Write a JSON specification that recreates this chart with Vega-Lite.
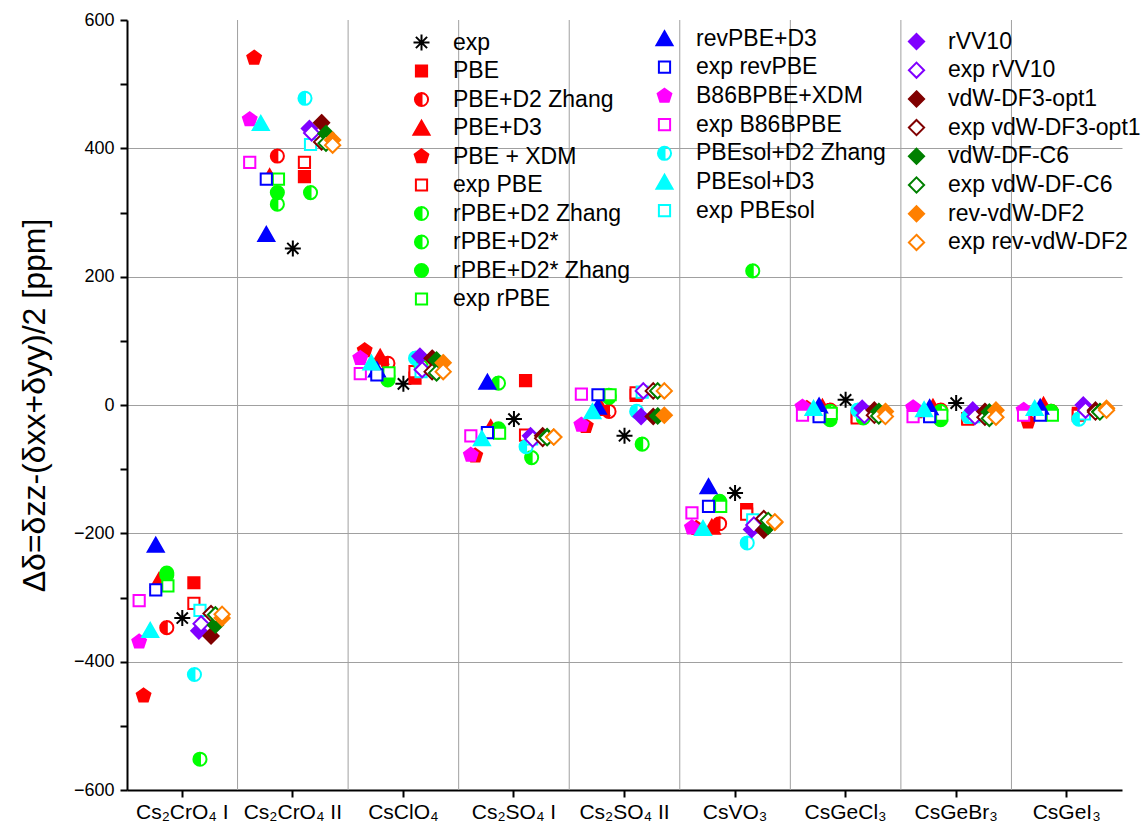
{
"$schema": "https://vega.github.io/schema/vega-lite/v6.json",
"width": 995, "height": 770,
"autosize": {"type": "none"},
"padding": {"left": 127, "top": 20, "right": 22, "bottom": 46},
"background": "white",
"config": {"view": {"stroke": null}, "font": "Liberation Sans"},
"datasets": {
"off": [
{"s":"exp","o":0},{"s":"PBE","o":0.105},{"s":"PBE+D2 Zhang","o":-0.14},{"s":"PBE+D3","o":-0.21},{"s":"PBE + XDM","o":-0.35},{"s":"exp PBE","o":0.105},{"s":"rPBE+D2 Zhang","o":-0.14},{"s":"rPBE+D2*","o":0.16},{"s":"rPBE+D2* Zhang","o":-0.14},{"s":"exp rPBE","o":-0.13},
{"s":"revPBE+D3","o":-0.24},{"s":"exp revPBE","o":-0.24},{"s":"B86BPBE+XDM","o":-0.39},{"s":"exp B86BPBE","o":-0.39},{"s":"PBEsol+D2 Zhang","o":0.11},{"s":"PBEsol+D3","o":-0.29},{"s":"exp PBEsol","o":0.16},
{"s":"rVV10","o":0.15},{"s":"exp rVV10","o":0.17},{"s":"vdW-DF3-opt1","o":0.26},{"s":"exp vdW-DF3-opt1","o":0.26},{"s":"vdW-DF-C6","o":0.30},{"s":"exp vdW-DF-C6","o":0.30},{"s":"rev-vdW-DF2","o":0.36},{"s":"exp rev-vdW-DF2","o":0.36}
],
"A": [
{"c":"Cs₂CrO₄ I","s":"exp","v":-332},{"c":"Cs₂CrO₄ II","s":"exp","v":244},{"c":"CsClO₄","s":"exp","v":33},{"c":"Cs₂SO₄ I","s":"exp","v":-22},{"c":"Cs₂SO₄ II","s":"exp","v":-48},{"c":"CsVO₃","s":"exp","v":-137},{"c":"CsGeCl₃","s":"exp","v":8},{"c":"CsGeBr₃","s":"exp","v":3},
{"c":"Cs₂CrO₄ I","s":"PBE","v":-277},{"c":"Cs₂CrO₄ II","s":"PBE","v":356},{"c":"CsClO₄","s":"PBE","v":42},{"c":"Cs₂SO₄ I","s":"PBE","v":38},{"c":"Cs₂SO₄ II","s":"PBE","v":15},{"c":"CsVO₃","s":"PBE","v":-163},{"c":"CsGeCl₃","s":"PBE","v":-18},{"c":"CsGeBr₃","s":"PBE","v":-21},{"c":"CsGeI₃","s":"PBE","v":-13},
{"c":"Cs₂CrO₄ I","s":"PBE+D2 Zhang","v":-347},{"c":"Cs₂CrO₄ II","s":"PBE+D2 Zhang","v":388},{"c":"CsClO₄","s":"PBE+D2 Zhang","v":65},{"c":"Cs₂SO₄ I","s":"PBE+D2 Zhang","v":-42},{"c":"Cs₂SO₄ II","s":"PBE+D2 Zhang","v":-10},{"c":"CsVO₃","s":"PBE+D2 Zhang","v":-185},{"c":"CsGeCl₃","s":"PBE+D2 Zhang","v":-8},{"c":"CsGeBr₃","s":"PBE+D2 Zhang","v":-8},{"c":"CsGeI₃","s":"PBE+D2 Zhang","v":-10},
{"c":"Cs₂CrO₄ I","s":"PBE+D3","v":-273},{"c":"Cs₂CrO₄ II","s":"PBE+D3","v":356},{"c":"CsClO₄","s":"PBE+D3","v":75},{"c":"Cs₂SO₄ I","s":"PBE+D3","v":-35},{"c":"Cs₂SO₄ II","s":"PBE+D3","v":-5},{"c":"CsVO₃","s":"PBE+D3","v":-190},{"c":"CsGeCl₃","s":"PBE+D3","v":-3},{"c":"CsGeBr₃","s":"PBE+D3","v":-3},{"c":"CsGeI₃","s":"PBE+D3","v":0},
{"c":"Cs₂CrO₄ I","s":"PBE + XDM","v":-453},{"c":"Cs₂CrO₄ II","s":"PBE + XDM","v":541},{"c":"CsClO₄","s":"PBE + XDM","v":85},{"c":"Cs₂SO₄ I","s":"PBE + XDM","v":-79},{"c":"Cs₂SO₄ II","s":"PBE + XDM","v":-33},{"c":"CsVO₃","s":"PBE + XDM","v":-192},{"c":"CsGeCl₃","s":"PBE + XDM","v":-5},{"c":"CsGeBr₃","s":"PBE + XDM","v":-10},{"c":"CsGeI₃","s":"PBE + XDM","v":-26},
{"c":"Cs₂CrO₄ I","s":"exp PBE","v":-309},{"c":"Cs₂CrO₄ II","s":"exp PBE","v":378},{"c":"CsClO₄","s":"exp PBE","v":52},{"c":"Cs₂SO₄ I","s":"exp PBE","v":-47},{"c":"Cs₂SO₄ II","s":"exp PBE","v":19},{"c":"CsVO₃","s":"exp PBE","v":-170},{"c":"CsGeCl₃","s":"exp PBE","v":-20},{"c":"CsGeBr₃","s":"exp PBE","v":-22},{"c":"CsGeI₃","s":"exp PBE","v":-16},
{"c":"Cs₂CrO₄ I","s":"rPBE+D2 Zhang","v":-265},{"c":"Cs₂CrO₄ II","s":"rPBE+D2 Zhang","v":313},{"c":"CsClO₄","s":"rPBE+D2 Zhang","v":45},{"c":"Cs₂SO₄ I","s":"rPBE+D2 Zhang","v":34},{"c":"Cs₂SO₄ II","s":"rPBE+D2 Zhang","v":15},{"c":"CsVO₃","s":"rPBE+D2 Zhang","v":-151},{"c":"CsGeCl₃","s":"rPBE+D2 Zhang","v":-10},{"c":"CsGeBr₃","s":"rPBE+D2 Zhang","v":-10},{"c":"CsGeI₃","s":"rPBE+D2 Zhang","v":-10},
{"c":"Cs₂CrO₄ I","s":"rPBE+D2*","v":-552},{"c":"Cs₂CrO₄ II","s":"rPBE+D2*","v":331},{"c":"CsClO₄","s":"rPBE+D2*","v":60},{"c":"Cs₂SO₄ I","s":"rPBE+D2*","v":-82},{"c":"Cs₂SO₄ II","s":"rPBE+D2*","v":-61},{"c":"CsVO₃","s":"rPBE+D2*","v":209},{"c":"CsGeCl₃","s":"rPBE+D2*","v":-20},{"c":"CsGeBr₃","s":"rPBE+D2*","v":-18},{"c":"CsGeI₃","s":"rPBE+D2*","v":-12},
{"c":"Cs₂CrO₄ I","s":"rPBE+D2* Zhang","v":-262},{"c":"Cs₂CrO₄ II","s":"rPBE+D2* Zhang","v":331},{"c":"CsClO₄","s":"rPBE+D2* Zhang","v":39},{"c":"Cs₂SO₄ I","s":"rPBE+D2* Zhang","v":-37},{"c":"Cs₂SO₄ II","s":"rPBE+D2* Zhang","v":12},{"c":"CsVO₃","s":"rPBE+D2* Zhang","v":-150},{"c":"CsGeCl₃","s":"rPBE+D2* Zhang","v":-23},{"c":"CsGeBr₃","s":"rPBE+D2* Zhang","v":-23},{"c":"CsGeI₃","s":"rPBE+D2* Zhang","v":-13},
{"c":"Cs₂CrO₄ I","s":"exp rPBE","v":-282},{"c":"Cs₂CrO₄ II","s":"exp rPBE","v":352},{"c":"CsClO₄","s":"exp rPBE","v":50},{"c":"Cs₂SO₄ I","s":"exp rPBE","v":-44},{"c":"Cs₂SO₄ II","s":"exp rPBE","v":16},{"c":"CsVO₃","s":"exp rPBE","v":-158},{"c":"CsGeCl₃","s":"exp rPBE","v":-13},{"c":"CsGeBr₃","s":"exp rPBE","v":-16},{"c":"CsGeI₃","s":"exp rPBE","v":-16}
],
"B": [
{"c":"Cs₂CrO₄ I","s":"revPBE+D3","v":-218},{"c":"Cs₂CrO₄ II","s":"revPBE+D3","v":266},{"c":"CsClO₄","s":"revPBE+D3","v":55},{"c":"Cs₂SO₄ I","s":"revPBE+D3","v":36},{"c":"Cs₂SO₄ II","s":"revPBE+D3","v":-3},{"c":"CsVO₃","s":"revPBE+D3","v":-127},{"c":"CsGeCl₃","s":"revPBE+D3","v":-1},{"c":"CsGeBr₃","s":"revPBE+D3","v":-4},{"c":"CsGeI₃","s":"revPBE+D3","v":-3},
{"c":"Cs₂CrO₄ I","s":"exp revPBE","v":-288},{"c":"Cs₂CrO₄ II","s":"exp revPBE","v":352},{"c":"CsClO₄","s":"exp revPBE","v":47},{"c":"Cs₂SO₄ I","s":"exp revPBE","v":-43},{"c":"Cs₂SO₄ II","s":"exp revPBE","v":16},{"c":"CsVO₃","s":"exp revPBE","v":-158},{"c":"CsGeCl₃","s":"exp revPBE","v":-18},{"c":"CsGeBr₃","s":"exp revPBE","v":-18},{"c":"CsGeI₃","s":"exp revPBE","v":-16},
{"c":"Cs₂CrO₄ I","s":"B86BPBE+XDM","v":-369},{"c":"Cs₂CrO₄ II","s":"B86BPBE+XDM","v":445},{"c":"CsClO₄","s":"B86BPBE+XDM","v":73},{"c":"Cs₂SO₄ I","s":"B86BPBE+XDM","v":-78},{"c":"Cs₂SO₄ II","s":"B86BPBE+XDM","v":-31},{"c":"CsVO₃","s":"B86BPBE+XDM","v":-191},{"c":"CsGeCl₃","s":"B86BPBE+XDM","v":-3},{"c":"CsGeBr₃","s":"B86BPBE+XDM","v":-4},{"c":"CsGeI₃","s":"B86BPBE+XDM","v":-8},
{"c":"Cs₂CrO₄ I","s":"exp B86BPBE","v":-305},{"c":"Cs₂CrO₄ II","s":"exp B86BPBE","v":378},{"c":"CsClO₄","s":"exp B86BPBE","v":49},{"c":"Cs₂SO₄ I","s":"exp B86BPBE","v":-48},{"c":"Cs₂SO₄ II","s":"exp B86BPBE","v":17},{"c":"CsVO₃","s":"exp B86BPBE","v":-168},{"c":"CsGeCl₃","s":"exp B86BPBE","v":-16},{"c":"CsGeBr₃","s":"exp B86BPBE","v":-18},{"c":"CsGeI₃","s":"exp B86BPBE","v":-16},
{"c":"Cs₂CrO₄ I","s":"PBEsol+D2 Zhang","v":-420},{"c":"Cs₂CrO₄ II","s":"PBEsol+D2 Zhang","v":478},{"c":"CsClO₄","s":"PBEsol+D2 Zhang","v":73},{"c":"Cs₂SO₄ I","s":"PBEsol+D2 Zhang","v":-65},{"c":"Cs₂SO₄ II","s":"PBEsol+D2 Zhang","v":-10},{"c":"CsVO₃","s":"PBEsol+D2 Zhang","v":-215},{"c":"CsGeCl₃","s":"PBEsol+D2 Zhang","v":-8},{"c":"CsGeBr₃","s":"PBEsol+D2 Zhang","v":-18},{"c":"CsGeI₃","s":"PBEsol+D2 Zhang","v":-22},
{"c":"Cs₂CrO₄ I","s":"PBEsol+D3","v":-351},{"c":"Cs₂CrO₄ II","s":"PBEsol+D3","v":439},{"c":"CsClO₄","s":"PBEsol+D3","v":66},{"c":"Cs₂SO₄ I","s":"PBEsol+D3","v":-52},{"c":"Cs₂SO₄ II","s":"PBEsol+D3","v":-10},{"c":"CsVO₃","s":"PBEsol+D3","v":-192},{"c":"CsGeCl₃","s":"PBEsol+D3","v":-5},{"c":"CsGeBr₃","s":"PBEsol+D3","v":-7},{"c":"CsGeI₃","s":"PBEsol+D3","v":-5},
{"c":"Cs₂CrO₄ I","s":"exp PBEsol","v":-320},{"c":"Cs₂CrO₄ II","s":"exp PBEsol","v":406},{"c":"CsClO₄","s":"exp PBEsol","v":52},{"c":"Cs₂SO₄ I","s":"exp PBEsol","v":-53},{"c":"Cs₂SO₄ II","s":"exp PBEsol","v":20},{"c":"CsVO₃","s":"exp PBEsol","v":-179},{"c":"CsGeCl₃","s":"exp PBEsol","v":-12},{"c":"CsGeBr₃","s":"exp PBEsol","v":-18},{"c":"CsGeI₃","s":"exp PBEsol","v":-14}
],
"C": [
{"c":"Cs₂CrO₄ I","s":"rVV10","v":-352},{"c":"Cs₂CrO₄ II","s":"rVV10","v":431},{"c":"CsClO₄","s":"rVV10","v":76},{"c":"Cs₂SO₄ I","s":"rVV10","v":-48},{"c":"Cs₂SO₄ II","s":"rVV10","v":-18},{"c":"CsVO₃","s":"rVV10","v":-194},{"c":"CsGeCl₃","s":"rVV10","v":-5},{"c":"CsGeBr₃","s":"rVV10","v":-8},{"c":"CsGeI₃","s":"rVV10","v":0},
{"c":"Cs₂CrO₄ I","s":"exp rVV10","v":-341},{"c":"Cs₂CrO₄ II","s":"exp rVV10","v":424},{"c":"CsClO₄","s":"exp rVV10","v":55},{"c":"Cs₂SO₄ I","s":"exp rVV10","v":-53},{"c":"Cs₂SO₄ II","s":"exp rVV10","v":22},{"c":"CsVO₃","s":"exp rVV10","v":-187},{"c":"CsGeCl₃","s":"exp rVV10","v":-16},{"c":"CsGeBr₃","s":"exp rVV10","v":-18},{"c":"CsGeI₃","s":"exp rVV10","v":-8},
{"c":"Cs₂CrO₄ I","s":"vdW-DF3-opt1","v":-360},{"c":"Cs₂CrO₄ II","s":"vdW-DF3-opt1","v":440},{"c":"CsClO₄","s":"vdW-DF3-opt1","v":73},{"c":"Cs₂SO₄ I","s":"vdW-DF3-opt1","v":-48},{"c":"Cs₂SO₄ II","s":"vdW-DF3-opt1","v":-18},{"c":"CsVO₃","s":"vdW-DF3-opt1","v":-195},{"c":"CsGeCl₃","s":"vdW-DF3-opt1","v":-8},{"c":"CsGeBr₃","s":"vdW-DF3-opt1","v":-10},{"c":"CsGeI₃","s":"vdW-DF3-opt1","v":-8},
{"c":"Cs₂CrO₄ I","s":"exp vdW-DF3-opt1","v":-325},{"c":"Cs₂CrO₄ II","s":"exp vdW-DF3-opt1","v":410},{"c":"CsClO₄","s":"exp vdW-DF3-opt1","v":52},{"c":"Cs₂SO₄ I","s":"exp vdW-DF3-opt1","v":-52},{"c":"Cs₂SO₄ II","s":"exp vdW-DF3-opt1","v":22},{"c":"CsVO₃","s":"exp vdW-DF3-opt1","v":-177},{"c":"CsGeCl₃","s":"exp vdW-DF3-opt1","v":-16},{"c":"CsGeBr₃","s":"exp vdW-DF3-opt1","v":-19},{"c":"CsGeI₃","s":"exp vdW-DF3-opt1","v":-11},
{"c":"Cs₂CrO₄ I","s":"vdW-DF-C6","v":-343},{"c":"Cs₂CrO₄ II","s":"vdW-DF-C6","v":423},{"c":"CsClO₄","s":"vdW-DF-C6","v":70},{"c":"Cs₂SO₄ I","s":"vdW-DF-C6","v":-49},{"c":"Cs₂SO₄ II","s":"vdW-DF-C6","v":-17},{"c":"CsVO₃","s":"vdW-DF-C6","v":-189},{"c":"CsGeCl₃","s":"vdW-DF-C6","v":-10},{"c":"CsGeBr₃","s":"vdW-DF-C6","v":-11},{"c":"CsGeI₃","s":"vdW-DF-C6","v":-10},
{"c":"Cs₂CrO₄ I","s":"exp vdW-DF-C6","v":-327},{"c":"Cs₂CrO₄ II","s":"exp vdW-DF-C6","v":408},{"c":"CsClO₄","s":"exp vdW-DF-C6","v":50},{"c":"Cs₂SO₄ I","s":"exp vdW-DF-C6","v":-51},{"c":"Cs₂SO₄ II","s":"exp vdW-DF-C6","v":22},{"c":"CsVO₃","s":"exp vdW-DF-C6","v":-180},{"c":"CsGeCl₃","s":"exp vdW-DF-C6","v":-17},{"c":"CsGeBr₃","s":"exp vdW-DF-C6","v":-21},{"c":"CsGeI₃","s":"exp vdW-DF-C6","v":-11},
{"c":"Cs₂CrO₄ I","s":"rev-vdW-DF2","v":-332},{"c":"Cs₂CrO₄ II","s":"rev-vdW-DF2","v":413},{"c":"CsClO₄","s":"rev-vdW-DF2","v":66},{"c":"Cs₂SO₄ I","s":"rev-vdW-DF2","v":-50},{"c":"Cs₂SO₄ II","s":"rev-vdW-DF2","v":-16},{"c":"CsVO₃","s":"rev-vdW-DF2","v":-183},{"c":"CsGeCl₃","s":"rev-vdW-DF2","v":-10},{"c":"CsGeBr₃","s":"rev-vdW-DF2","v":-8},{"c":"CsGeI₃","s":"rev-vdW-DF2","v":-5},
{"c":"Cs₂CrO₄ I","s":"exp rev-vdW-DF2","v":-326},{"c":"Cs₂CrO₄ II","s":"exp rev-vdW-DF2","v":405},{"c":"CsClO₄","s":"exp rev-vdW-DF2","v":52},{"c":"Cs₂SO₄ I","s":"exp rev-vdW-DF2","v":-50},{"c":"Cs₂SO₄ II","s":"exp rev-vdW-DF2","v":22},{"c":"CsVO₃","s":"exp rev-vdW-DF2","v":-182},{"c":"CsGeCl₃","s":"exp rev-vdW-DF2","v":-18},{"c":"CsGeBr₃","s":"exp rev-vdW-DF2","v":-19},{"c":"CsGeI₃","s":"exp rev-vdW-DF2","v":-8}
]
},
"layer": [
{
"data": {"values": [{"c":"Cs₂CrO₄ II"},{"c":"CsClO₄"},{"c":"Cs₂SO₄ I"},{"c":"Cs₂SO₄ II"},{"c":"CsVO₃"},{"c":"CsGeCl₃"},{"c":"CsGeBr₃"},{"c":"CsGeI₃"}]},
"mark": {"type": "rule", "color": "#a0a0a0", "strokeWidth": 1},
"encoding": {
"x": {"field": "c", "type": "nominal", "bandPosition": 0,
"scale": {"type": "band", "domain": ["Cs₂CrO₄ I","Cs₂CrO₄ II","CsClO₄","Cs₂SO₄ I","Cs₂SO₄ II","CsVO₃","CsGeCl₃","CsGeBr₃","CsGeI₃"], "paddingInner": 0, "paddingOuter": 0},
"axis": {"title": null, "labelFontSize": 21, "labelColor": "black", "labelAngle": 0, "labelPadding": 4, "tickSize": 7, "tickWidth": 2, "tickColor": "black", "domainColor": "black", "domainWidth": 2, "grid": false, "labelOverlap": false, "labelLimit": 300}}
}
},
{
"data": {"name": "A"},
"transform": [{"lookup": "s", "from": {"data": {"name": "off"}, "key": "s", "fields": ["o"]}}],
"mark": {"type": "point", "opacity": 1, "strokeWidth": 2, "size": 256},
"encoding": {
"x": {"field": "c", "type": "nominal",
"axis": {"title": null, "labelFontSize": 21, "labelColor": "black", "labelAngle": 0, "labelPadding": 4, "tickSize": 7, "tickWidth": 2, "tickColor": "black", "domainColor": "black", "domainWidth": 2, "grid": false, "labelOverlap": false, "labelLimit": 300}},
"xOffset": {"field": "o", "type": "quantitative", "scale": {"domain": [-0.5, 0.5], "nice": false, "zero": false}},
"y": {"field": "v", "type": "quantitative", "scale": {"domain": [-600, 600], "nice": false},
"axis": {"title": "Δδ=δzz-(δxx+δyy)/2 [ppm]", "titleFontSize": 32, "titleFontWeight": "normal", "titleColor": "black", "titlePadding": 22,
"values": [-600,-500,-400,-300,-200,-100,0,100,200,300,400,500,600],
"labelExpr": "datum.value % 200 === 0 ? datum.label : ''",
"labelFontSize": 18, "labelColor": "black", "labelPadding": 6, "tickSize": 7, "tickWidth": 2, "tickColor": "black", "domainColor": "black", "domainWidth": 2,
"grid": true, "gridColor": "#a0a0a0", "gridWidth": 1,
"gridOpacity": {"condition": {"test": "datum.value % 200 === 0 && abs(datum.value) < 600", "value": 1}, "value": 0}}},
"fill": {"field": "s", "type": "nominal",
"scale": {"domain": ["exp","PBE","PBE+D2 Zhang","PBE+D3","PBE + XDM","exp PBE","rPBE+D2 Zhang","rPBE+D2*","rPBE+D2* Zhang","exp rPBE"],
"range": ["transparent","#ff0000","#ff0000","#ff0000","#ff0000","white","#00ff00","#00ff00","#00ff00","white"]},
"legend": {"orient": "none", "legendX": 283, "legendY": 11, "title": null, "symbolSize": 256, "symbolStrokeWidth": 2, "labelFontSize": 23, "labelColor": "black", "labelOffset": 20, "rowPadding": 4.5, "padding": 0, "labelLimit": 400}},
"stroke": {"field": "s", "type": "nominal",
"scale": {"domain": ["exp","PBE","PBE+D2 Zhang","PBE+D3","PBE + XDM","exp PBE","rPBE+D2 Zhang","rPBE+D2*","rPBE+D2* Zhang","exp rPBE"],
"range": ["black","#ff0000","#ff0000","#ff0000","#ff0000","#ff0000","#00ff00","#00ff00","#00ff00","#00ff00"]},
"legend": {"orient": "none", "legendX": 283, "legendY": 11, "title": null, "symbolSize": 256, "symbolStrokeWidth": 2, "labelFontSize": 23, "labelColor": "black", "labelOffset": 20, "rowPadding": 4.5, "padding": 0, "labelLimit": 400}},
"shape": {"field": "s", "type": "nominal",
"scale": {"domain": ["exp","PBE","PBE+D2 Zhang","PBE+D3","PBE + XDM","exp PBE","rPBE+D2 Zhang","rPBE+D2*","rPBE+D2* Zhang","exp rPBE"],
"range": [
"M-1,0L1,0M0,-1L0,1M-0.7,-0.7L0.7,0.7M-0.7,0.7L0.7,-0.7",
"M-0.7,-0.7L0.7,-0.7L0.7,0.7L-0.7,0.7Z",
"M0,-0.82A0.82,0.82 0 1,1 0,0.82A0.82,0.82 0 1,1 0,-0.82ZM0,-0.82L0,0.82A0.82,0.82 0 0,0 0,-0.82Z",
"M0,-0.9L1,0.85L-1,0.85Z",
"M0,-0.9L0.856,-0.278L0.529,0.728L-0.529,0.728L-0.856,-0.278Z",
"M-0.7,-0.7L0.7,-0.7L0.7,0.7L-0.7,0.7Z",
"M0,-0.82A0.82,0.82 0 1,1 0,0.82A0.82,0.82 0 1,1 0,-0.82ZM0,-0.82L0,0.82A0.82,0.82 0 0,0 0,-0.82Z",
"M0,-0.82A0.82,0.82 0 1,1 0,0.82A0.82,0.82 0 1,1 0,-0.82ZM0,-0.82L0,0.82A0.82,0.82 0 0,0 0,-0.82Z",
"M0,-0.82A0.82,0.82 0 1,1 0,0.82A0.82,0.82 0 1,1 0,-0.82Z",
"M-0.7,-0.7L0.7,-0.7L0.7,0.7L-0.7,0.7Z"]},
"legend": {"orient": "none", "legendX": 283, "legendY": 11, "title": null, "symbolSize": 256, "symbolStrokeWidth": 2, "labelFontSize": 23, "labelColor": "black", "labelOffset": 20, "rowPadding": 4.5, "padding": 0, "labelLimit": 400}}
}
},
{
"data": {"name": "B"},
"transform": [{"lookup": "s", "from": {"data": {"name": "off"}, "key": "s", "fields": ["o"]}}],
"mark": {"type": "point", "opacity": 1, "strokeWidth": 2, "size": 256},
"encoding": {
"x": {"field": "c", "type": "nominal",
"axis": {"title": null, "labelFontSize": 21, "labelColor": "black", "labelAngle": 0, "labelPadding": 4, "tickSize": 7, "tickWidth": 2, "tickColor": "black", "domainColor": "black", "domainWidth": 2, "grid": false, "labelOverlap": false, "labelLimit": 300}},
"xOffset": {"field": "o", "type": "quantitative", "scale": {"domain": [-0.5, 0.5], "nice": false, "zero": false}},
"y": {"field": "v", "type": "quantitative", "scale": {"domain": [-600, 600], "nice": false},
"axis": {"title": "Δδ=δzz-(δxx+δyy)/2 [ppm]", "titleFontSize": 32, "titleFontWeight": "normal", "titleColor": "black", "titlePadding": 22,
"values": [-600,-500,-400,-300,-200,-100,0,100,200,300,400,500,600],
"labelExpr": "datum.value % 200 === 0 ? datum.label : ''",
"labelFontSize": 18, "labelColor": "black", "labelPadding": 6, "tickSize": 7, "tickWidth": 2, "tickColor": "black", "domainColor": "black", "domainWidth": 2,
"grid": true, "gridColor": "#a0a0a0", "gridWidth": 1,
"gridOpacity": {"condition": {"test": "datum.value % 200 === 0 && abs(datum.value) < 600", "value": 1}, "value": 0}}},
"fill": {"field": "s", "type": "nominal",
"scale": {"domain": ["revPBE+D3","exp revPBE","B86BPBE+XDM","exp B86BPBE","PBEsol+D2 Zhang","PBEsol+D3","exp PBEsol"],
"range": ["#0000ff","white","#ff00ff","white","#00ffff","#00ffff","white"]},
"legend": {"orient": "none", "legendX": 526, "legendY": 7, "title": null, "symbolSize": 256, "symbolStrokeWidth": 2, "labelFontSize": 23, "labelColor": "black", "labelOffset": 20, "rowPadding": 4.7, "padding": 0, "labelLimit": 400}},
"stroke": {"field": "s", "type": "nominal",
"scale": {"domain": ["revPBE+D3","exp revPBE","B86BPBE+XDM","exp B86BPBE","PBEsol+D2 Zhang","PBEsol+D3","exp PBEsol"],
"range": ["#0000ff","#0000ff","#ff00ff","#ff00ff","#00ffff","#00ffff","#00ffff"]},
"legend": {"orient": "none", "legendX": 526, "legendY": 7, "title": null, "symbolSize": 256, "symbolStrokeWidth": 2, "labelFontSize": 23, "labelColor": "black", "labelOffset": 20, "rowPadding": 4.7, "padding": 0, "labelLimit": 400}},
"shape": {"field": "s", "type": "nominal",
"scale": {"domain": ["revPBE+D3","exp revPBE","B86BPBE+XDM","exp B86BPBE","PBEsol+D2 Zhang","PBEsol+D3","exp PBEsol"],
"range": [
"M0,-0.9L1,0.85L-1,0.85Z",
"M-0.7,-0.7L0.7,-0.7L0.7,0.7L-0.7,0.7Z",
"M0,-0.9L0.856,-0.278L0.529,0.728L-0.529,0.728L-0.856,-0.278Z",
"M-0.7,-0.7L0.7,-0.7L0.7,0.7L-0.7,0.7Z",
"M0,-0.82A0.82,0.82 0 1,1 0,0.82A0.82,0.82 0 1,1 0,-0.82ZM0,-0.82L0,0.82A0.82,0.82 0 0,0 0,-0.82Z",
"M0,-0.9L1,0.85L-1,0.85Z",
"M-0.7,-0.7L0.7,-0.7L0.7,0.7L-0.7,0.7Z"]},
"legend": {"orient": "none", "legendX": 526, "legendY": 7, "title": null, "symbolSize": 256, "symbolStrokeWidth": 2, "labelFontSize": 23, "labelColor": "black", "labelOffset": 20, "rowPadding": 4.7, "padding": 0, "labelLimit": 400}}
}
},
{
"data": {"name": "C"},
"transform": [{"lookup": "s", "from": {"data": {"name": "off"}, "key": "s", "fields": ["o"]}}],
"mark": {"type": "point", "opacity": 1, "strokeWidth": 2, "size": 256},
"encoding": {
"x": {"field": "c", "type": "nominal",
"axis": {"title": null, "labelFontSize": 21, "labelColor": "black", "labelAngle": 0, "labelPadding": 4, "tickSize": 7, "tickWidth": 2, "tickColor": "black", "domainColor": "black", "domainWidth": 2, "grid": false, "labelOverlap": false, "labelLimit": 300}},
"xOffset": {"field": "o", "type": "quantitative", "scale": {"domain": [-0.5, 0.5], "nice": false, "zero": false}},
"y": {"field": "v", "type": "quantitative", "scale": {"domain": [-600, 600], "nice": false},
"axis": {"title": "Δδ=δzz-(δxx+δyy)/2 [ppm]", "titleFontSize": 32, "titleFontWeight": "normal", "titleColor": "black", "titlePadding": 22,
"values": [-600,-500,-400,-300,-200,-100,0,100,200,300,400,500,600],
"labelExpr": "datum.value % 200 === 0 ? datum.label : ''",
"labelFontSize": 18, "labelColor": "black", "labelPadding": 6, "tickSize": 7, "tickWidth": 2, "tickColor": "black", "domainColor": "black", "domainWidth": 2,
"grid": true, "gridColor": "#a0a0a0", "gridWidth": 1,
"gridOpacity": {"condition": {"test": "datum.value % 200 === 0 && abs(datum.value) < 600", "value": 1}, "value": 0}}},
"fill": {"field": "s", "type": "nominal",
"scale": {"domain": ["rVV10","exp rVV10","vdW-DF3-opt1","exp vdW-DF3-opt1","vdW-DF-C6","exp vdW-DF-C6","rev-vdW-DF2","exp rev-vdW-DF2"],
"range": ["#8000ff","white","#800000","white","#008000","white","#ff8000","white"]},
"legend": {"orient": "none", "legendX": 778, "legendY": 10, "title": null, "symbolSize": 256, "symbolStrokeWidth": 2, "labelFontSize": 23, "labelColor": "black", "labelOffset": 20, "rowPadding": 3.7, "padding": 0, "labelLimit": 400}},
"stroke": {"field": "s", "type": "nominal",
"scale": {"domain": ["rVV10","exp rVV10","vdW-DF3-opt1","exp vdW-DF3-opt1","vdW-DF-C6","exp vdW-DF-C6","rev-vdW-DF2","exp rev-vdW-DF2"],
"range": ["#8000ff","#8000ff","#800000","#800000","#008000","#008000","#ff8000","#ff8000"]},
"legend": {"orient": "none", "legendX": 778, "legendY": 10, "title": null, "symbolSize": 256, "symbolStrokeWidth": 2, "labelFontSize": 23, "labelColor": "black", "labelOffset": 20, "rowPadding": 3.7, "padding": 0, "labelLimit": 400}},
"shape": {"field": "s", "type": "nominal",
"scale": {"domain": ["rVV10","exp rVV10","vdW-DF3-opt1","exp vdW-DF3-opt1","vdW-DF-C6","exp vdW-DF-C6","rev-vdW-DF2","exp rev-vdW-DF2"],
"range": ["M0,-0.95L0.95,0L0,0.95L-0.95,0Z","M0,-0.95L0.95,0L0,0.95L-0.95,0Z","M0,-0.95L0.95,0L0,0.95L-0.95,0Z","M0,-0.95L0.95,0L0,0.95L-0.95,0Z","M0,-0.95L0.95,0L0,0.95L-0.95,0Z","M0,-0.95L0.95,0L0,0.95L-0.95,0Z","M0,-0.95L0.95,0L0,0.95L-0.95,0Z","M0,-0.95L0.95,0L0,0.95L-0.95,0Z"]},
"legend": {"orient": "none", "legendX": 778, "legendY": 10, "title": null, "symbolSize": 256, "symbolStrokeWidth": 2, "labelFontSize": 23, "labelColor": "black", "labelOffset": 20, "rowPadding": 3.7, "padding": 0, "labelLimit": 400}}
}
}
],
"resolve": {"scale": {"fill": "independent", "stroke": "independent", "shape": "independent"}, "legend": {"fill": "independent", "stroke": "independent", "shape": "independent"}}
}
